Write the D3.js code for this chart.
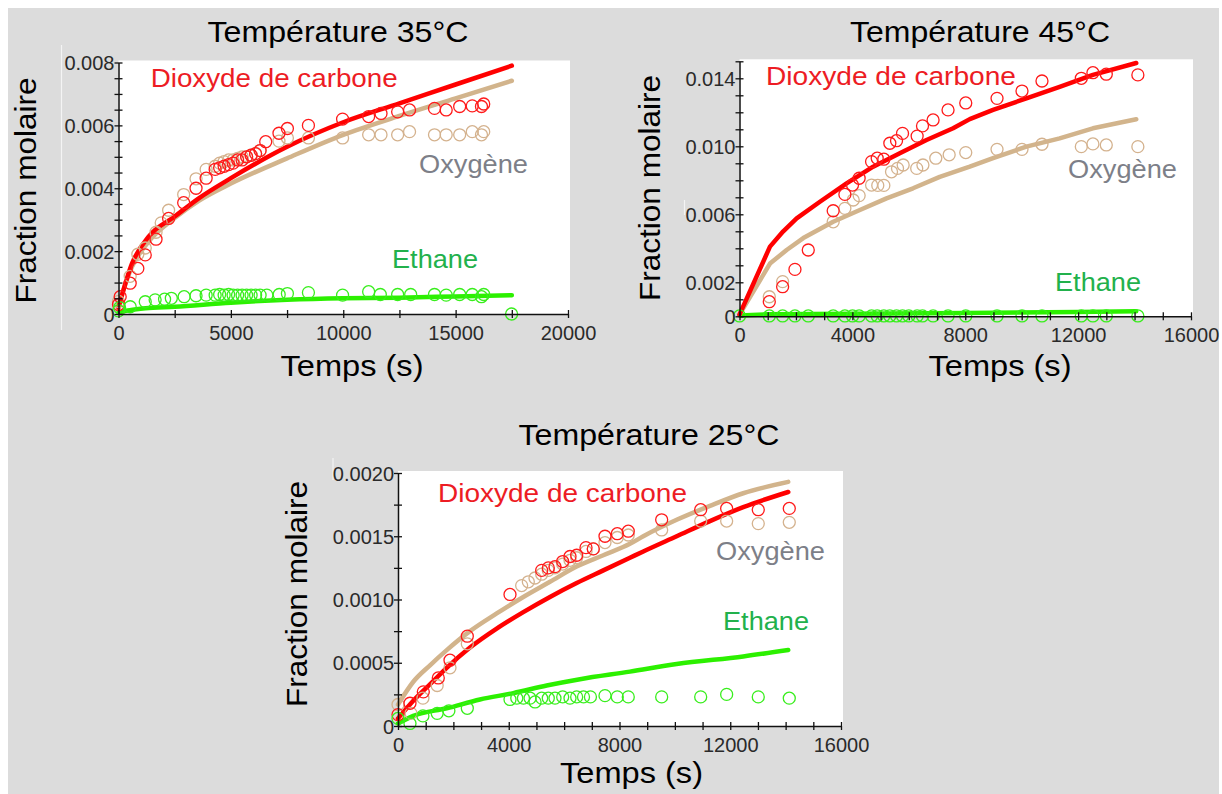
<!DOCTYPE html>
<html><head><meta charset="utf-8">
<script src="https://cdn.jsdelivr.net/npm/d3@7"></script>
<style>
body{margin:0;background:#fff;}
svg{display:block;font-family:Arial,"Liberation Sans",sans-serif;}
</style>
</head><body>
<svg id="c" width="1222" height="794"></svg>
<script>
// ---------------- DATA ----------------
// Panel "Température 35°C"  (t [s], fraction molaire)
const co2Model35 = [[0,0.0002],[600,0.0016],[1340,0.00246],[2500,0.0031],[3570,0.00368],[5000,0.00432],[7500,0.00532],[10000,0.0061],[12500,0.0067],[15000,0.0073],[17500,0.0079]];
const o2Model35  = [[0,0.0003],[600,0.0015],[1340,0.0023],[2500,0.00305],[3570,0.0036],[5000,0.00415],[7500,0.00495],[10000,0.0057],[12500,0.0063],[15000,0.00686],[17500,0.00742]];
const c2h6Model35 = [[0,0.00005],[500,0.00012],[1200,0.00018],[2500,0.00023],[5000,0.00036],[7500,0.00045],[10000,0.0005],[12500,0.00052],[15000,0.00056],[17500,0.0006]];
const co2Data35 = [[0,0.0003],[75,0.00055],[520,0.00098],[860,0.00145],[1190,0.00188],[1670,0.00238],[2230,0.00304],[2900,0.00354],[3450,0.004],[3900,0.00432],[4300,0.0046],[4500,0.00465],[4700,0.0047],[4900,0.00475],[5100,0.0048],[5300,0.0049],[5500,0.0049],[5700,0.005],[5900,0.00505],[6100,0.0051],[6300,0.0052],[6550,0.00548],[7140,0.00575],[7515,0.0059],[8450,0.006],[9970,0.0062],[11130,0.00628],[11680,0.00638],[12420,0.00643],[12950,0.00649],[14060,0.00654],[14580,0.00649],[15180,0.0066],[15740,0.00662],[16150,0.0066],[16250,0.00668]];
const o2Data35 = [[0,0.0004],[520,0.0012],[860,0.0019],[1190,0.0021],[1670,0.0026],[1900,0.0029],[2230,0.0033],[2900,0.0038],[3450,0.0043],[3900,0.0046],[4300,0.0047],[4500,0.0048],[4700,0.00485],[4900,0.0049],[5100,0.0049],[5300,0.00495],[5500,0.005],[5700,0.005],[5900,0.00505],[6100,0.0051],[6300,0.0052],[7140,0.0055],[7515,0.0056],[8450,0.0056],[9970,0.0056],[11130,0.0057],[11680,0.0057],[12420,0.0057],[12950,0.0058],[14060,0.0057],[14580,0.0057],[15180,0.0057],[15740,0.0058],[16150,0.0057],[16250,0.0058]];
const c2h6Data35 = [[0,0.0001],[50,0.0002],[520,0.00023],[1190,0.00039],[1630,0.00045],[2050,0.00047],[2350,0.0005],[2920,0.00055],[3450,0.00058],[3900,0.0006],[4300,0.0006],[4500,0.00062],[4700,0.0006],[4900,0.00062],[5100,0.0006],[5300,0.0006],[5500,0.0006],[5700,0.0006],[5900,0.0006],[6100,0.0006],[6300,0.0006],[6600,0.0006],[7150,0.00062],[7515,0.00065],[8450,0.00068],[9970,0.0006],[11130,0.00071],[11650,0.00062],[12420,0.00062],[13000,0.00062],[14060,0.00062],[14580,0.0006],[15180,0.00062],[15740,0.00062],[16150,0.00055],[16250,0.00062],[17490,0]];

// Panel "Température 45°C"
const co2Model45 = [[0,0.0001],[1080,0.0041],[1550,0.005],[2025,0.00576],[2850,0.00674],[3795,0.00782],[4736,0.0088],[5680,0.00959],[6627,0.01037],[7570,0.01106],[8160,0.0116],[8985,0.01214],[10166,0.01282],[11345,0.0135],[12524,0.0142],[14060,0.0149]];
const o2Model45  = [[0,0.0001],[1080,0.0031],[1670,0.0039],[2260,0.0046],[3320,0.00556],[4265,0.00625],[5210,0.00694],[6150,0.00753],[7097,0.0082],[8160,0.0088],[8985,0.0093],[10166,0.00998],[11345,0.01047],[12524,0.01106],[14060,0.01159]];
const c2h6Model45 = [[0,0.00005],[1000,0.00012],[4000,0.00015],[8000,0.0002],[12000,0.00025],[14060,0.0003]];
const co2Data45 = [[1056,0.00086],[1528,0.00174],[1965,0.00276],[2437,0.0039],[3320,0.00621],[3735,0.00717],[4005,0.00772],[4240,0.00812],[4680,0.0091],[4880,0.0093],[5115,0.00924],[5327,0.01018],[5565,0.01033],[5777,0.01076],[6295,0.0106],[6485,0.0112],[6860,0.01155],[7390,0.01214],[8018,0.01255],[9126,0.01282],[10011,0.01325],[10719,0.01384],[12113,0.014],[12524,0.01433],[12998,0.01424],[14117,0.0142]];
const o2Data45 = [[1056,0.00115],[1528,0.00204],[3320,0.00556],[3735,0.00635],[4030,0.00684],[4240,0.0071],[4680,0.00772],[4900,0.0077],[5115,0.0077],[5387,0.0085],[5600,0.0087],[5800,0.0089],[6280,0.0087],[6500,0.0089],[6956,0.0093],[7430,0.0095],[8018,0.00963],[9126,0.00982],[10011,0.00982],[10719,0.01012],[12113,0.00998],[12524,0.01014],[12998,0.01008],[14117,0.00998]];
const c2h6Data45 = [[0,0.00002],[1056,0.00002],[1528,0.00002],[1965,0.00002],[2437,0.00002],[3320,0.00002],[3735,0.00002],[4005,0.00002],[4240,0.00002],[4680,0.00002],[4880,0.00002],[5115,0.00002],[5327,0.00002],[5565,0.00002],[5777,0.00002],[6000,0.00002],[6295,0.00002],[6485,0.00002],[6860,0.00002],[7390,0.00002],[8018,0.00002],[9126,0.00002],[10011,0.00002],[10719,0.00002],[12113,0.00002],[12524,0.00002],[12998,0.00002],[14117,0.00002]];

// Panel "Température 25°C"
const co2Model25 = [[0,0.00006],[553,0.0002],[1156,0.00033],[1759,0.00046],[2600,0.00062],[3564,0.00077],[4526,0.0009],[5489,0.00102],[6453,0.00113],[7415,0.00123],[8378,0.00133],[8860,0.00138],[10065,0.0015],[11267,0.00162],[12470,0.00173],[14095,0.00185]];
const o2Model25  = [[0,0.00017],[553,0.00035],[1156,0.00048],[1759,0.0006],[2600,0.00075],[3564,0.00089],[4526,0.00102],[5489,0.00114],[6453,0.00126],[7415,0.00135],[8378,0.00144],[8860,0.0015],[10065,0.00163],[11267,0.00174],[12470,0.00184],[14095,0.00193]];
const c2h6Model25 = [[0,0.00002],[553,0.00008],[1759,0.00014],[2961,0.00021],[4165,0.00026],[5370,0.00032],[6573,0.00037],[8378,0.00043],[10065,0.00049],[12470,0.00055],[14095,0.0006]];
const co2Data25 = [[0,0.00009],[433,0.00018],[914,0.00027],[1455,0.00038],[1878,0.00052],[2503,0.00071],[4045,0.00104],[5189,0.00123],[5428,0.00125],[5670,0.00126],[5948,0.0013],[6212,0.00134],[6453,0.00135],[6790,0.00141],[7053,0.0014],[7476,0.0015],[7920,0.00152],[8317,0.00154],[9523,0.00163],[10932,0.00171],[11870,0.00172],[13012,0.00171],[14132,0.00172]];
const o2Data25 = [[0,0.00017],[470,0.0001],[900,0.00022],[1415,0.00032],[1878,0.00046],[2503,0.00065],[4466,0.00111],[4707,0.00114],[4947,0.00117],[5189,0.0012],[5428,0.00123],[5670,0.00125],[5948,0.00128],[6212,0.00131],[6453,0.00133],[6790,0.00138],[7053,0.0014],[7476,0.00145],[7920,0.00149],[8317,0.00151],[9523,0.00155],[10932,0.00162],[11870,0.00162],[13012,0.0016],[14132,0.00161]];
const c2h6Data25 = [[0,0.00006],[433,0.00002],[900,0.00008],[1415,0.0001],[1838,0.00012],[2503,0.00014],[4045,0.00021],[4290,0.00022],[4530,0.00022],[4770,0.00022],[4950,0.00019],[5189,0.00022],[5428,0.00022],[5670,0.00022],[5948,0.00023],[6212,0.00022],[6453,0.00023],[6700,0.00023],[6950,0.00023],[7476,0.00024],[7920,0.00023],[8317,0.00023],[9523,0.00023],[10932,0.00023],[11870,0.00025],[13012,0.00023],[14132,0.00022]];

// Tick values and labels
const xTicks35 = [0,5000,10000,15000,20000];
const xTickLabels35 = ["0","5000","10000","15000","20000"];
const yTicks35 = [0,0.002,0.004,0.006,0.008];
const yTickLabels35 = ["0","0.002","0.004","0.006","0.008"];
const xTicks45 = [0,4000,8000,12000,16000];
const xTickLabels45 = ["0","4000","8000","12000","16000"];
const yTicks45 = [0,0.002,0.006,0.010,0.014];
const yTickLabels45 = ["0","0.002","0.006","0.010","0.014"];
const xTicks25 = [0,4000,8000,12000,16000];
const xTickLabels25 = ["0","4000","8000","12000","16000"];
const yTicks25 = [0,0.0005,0.001,0.0015,0.002];
const yTickLabels25 = ["0","0.0005","0.0010","0.0015","0.0020"];

const titles = ["Température 35°C","Température 45°C","Température 25°C"];
const seriesNames = ["Dioxyde de carbone","Oxygène","Ethane"];
const xTitle = "Temps (s)";
const yTitle = "Fraction molaire";

// ---------------- STYLE / LAYOUT ----------------
const C = {
  redLine:"#ff0000", tanLine:"#d2b48c", greenLine:"#2cf000",
  redPt:"#ff1a1a", tanPt:"#d4b28e", greenPt:"#38ee1c",
  redTxt:"#ed1c24", grayTxt:"#7d7f88", greenTxt:"#22b14c"
};

const panels = [
  { title:titles[0], tx:338, ty:41.5, tw:261,
    xDom:[0,20000], xR:[118.5,568], yDom:[0,0.008], yR:[314,62.5], xMinor:2500, yMinor:0.0005,
    xT:xTicks35, xL:xTickLabels35, yT:yTicks35, yL:yTickLabels35,
    xtx:352, xty:376, ytx:36, yty:190.5, curve:d3.curveMonotoneX,
    lines:[c2h6Model35,o2Model35,co2Model35], pts:[o2Data35,co2Data35,c2h6Data35],
    lab:[[150.7,87,247],[419,173,109],[392,268,86]], ghost:[61.5,45,330] },
  { title:titles[1], tx:980, ty:41.5, tw:260,
    xDom:[0,16000], xR:[739.5,1191], yDom:[0,0.015], yR:[316.3,61.3], xMinor:1000, yMinor:0.001,
    xT:xTicks45, xL:xTickLabels45, yT:yTicks45, yL:yTickLabels45,
    xtx:1000, xty:376, ytx:660, yty:188, curve:d3.curveLinear,
    lines:[c2h6Model45,o2Model45,co2Model45], pts:[o2Data45,co2Data45,c2h6Data45],
    lab:[[766,85,250],[1068,178,109],[1055,291,86]], ghost:[684.5,200,215] },
  { title:titles[2], tx:649, ty:445, tw:261,
    xDom:[0,16000], xR:[398,841], yDom:[0,0.002], yR:[726,473], xMinor:1000, yMinor:0.00025,
    xT:xTicks25, xL:xTickLabels25, yT:yTicks25, yL:yTickLabels25,
    xtx:631.5, xty:783, ytx:307, yty:594, curve:d3.curveMonotoneX,
    lines:[c2h6Model25,o2Model25,co2Model25], pts:[o2Data25,co2Data25,c2h6Data25],
    lab:[[438,502,249],[716,560,109],[723,630,86]], ghost:[333,458,480] }
];

const svg = d3.select("#c");
svg.append("rect").attr("x",8).attr("y",8).attr("width",1211).attr("height",786).attr("fill","#dcdcdc");

panels.forEach(p => {
  const x = d3.scaleLinear().domain(p.xDom).range(p.xR);
  const y = d3.scaleLinear().domain(p.yDom).range(p.yR);
  const g = svg.append("g");

  g.append("line").attr("x1",p.ghost[0]).attr("x2",p.ghost[0]).attr("y1",p.ghost[1]).attr("y2",p.ghost[2])
    .attr("stroke","#f4f4f4").attr("stroke-width",1.2);

  g.append("rect").attr("x",p.xR[0]).attr("y",p.yR[1]-2)
    .attr("width",p.xR[1]-p.xR[0]+2).attr("height",p.yR[0]-p.yR[1]+2).attr("fill","#fff");

  g.append("text").attr("x",p.tx).attr("y",p.ty).attr("text-anchor","middle")
    .attr("font-size",30).attr("fill","#000").attr("textLength",p.tw).attr("lengthAdjust","spacingAndGlyphs")
    .text(p.title);

  const colsL = [C.greenLine, C.tanLine, C.redLine];
  p.lines.forEach((arr,i) => {
    const line = d3.line().x(d=>x(d[0])).y(d=>y(d[1])).curve(p.curve);
    g.append("path").datum(arr).attr("d",line).attr("fill","none")
      .attr("stroke",colsL[i]).attr("stroke-width",4.5).attr("stroke-linejoin","round").attr("stroke-linecap","round");
  });

  const colsP = [C.tanPt, C.redPt, C.greenPt];
  p.pts.forEach((arr,i) => {
    g.append("g").selectAll("circle").data(arr).join("circle")
      .attr("cx",d=>x(d[0])).attr("cy",d=>y(d[1])).attr("r",6)
      .attr("fill","none").attr("stroke",colsP[i]).attr("stroke-width",1.3);
  });

  const minorX = d3.range(p.xDom[0], p.xDom[1] + 1e-9, p.xMinor);
  const minorY = d3.range(p.yDom[0], p.yDom[1] + 1e-12, p.yMinor);
  const ax = g.append("g").attr("transform",`translate(0,${p.yR[0]})`)
    .call(d3.axisBottom(x).tickValues(minorX).tickSize(8).tickSizeOuter(0).tickFormat(""));
  ax.selectAll(".tick line").attr("y1",-4).attr("y2",4).attr("stroke","#111").attr("stroke-width",1.3);
  ax.select(".domain").attr("stroke","#111").attr("stroke-width",1.5);
  const axL = g.append("g").attr("transform",`translate(0,${p.yR[0]})`)
    .call(d3.axisBottom(x).tickValues(p.xT).tickSize(0).tickFormat((d,i)=>p.xL[i]));
  axL.select(".domain").remove();
  axL.selectAll("text").attr("y",12).attr("dy","0.71em").attr("font-size",20).attr("fill","#2a2a2a")
    .attr("font-family","Arial, 'Liberation Sans', sans-serif");

  const ay = g.append("g").attr("transform",`translate(${p.xR[0]},0)`)
    .call(d3.axisLeft(y).tickValues(minorY).tickSize(8).tickSizeOuter(0).tickFormat(""));
  ay.selectAll(".tick line").attr("x1",-4).attr("x2",4).attr("stroke","#111").attr("stroke-width",1.3);
  ay.select(".domain").attr("stroke","#111").attr("stroke-width",1.5);
  const ayL = g.append("g").attr("transform",`translate(${p.xR[0]},0)`)
    .call(d3.axisLeft(y).tickValues(p.yT).tickSize(0).tickFormat((d,i)=>p.yL[i]));
  ayL.select(".domain").remove();
  ayL.selectAll("text").attr("x",-4).attr("dy","0.35em").attr("font-size",20).attr("fill","#2a2a2a")
    .attr("font-family","Arial, 'Liberation Sans', sans-serif");

  g.append("text").attr("x",p.xtx).attr("y",p.xty).attr("text-anchor","middle")
    .attr("font-size",30).attr("fill","#000").attr("textLength",143).attr("lengthAdjust","spacingAndGlyphs").text(xTitle);
  g.append("text").attr("transform",`translate(${p.ytx},${p.yty}) rotate(-90)`).attr("text-anchor","middle")
    .attr("font-size",30).attr("fill","#000").attr("textLength",226).attr("lengthAdjust","spacingAndGlyphs").text(yTitle);

  const colsT = [C.redTxt, C.grayTxt, C.greenTxt];
  seriesNames.forEach((s,i) => {
    g.append("text").attr("x",p.lab[i][0]).attr("y",p.lab[i][1]).attr("font-size",25)
      .attr("fill",colsT[i]).attr("textLength",p.lab[i][2]).attr("lengthAdjust","spacingAndGlyphs").text(s);
  });
});
</script>
</body></html>
